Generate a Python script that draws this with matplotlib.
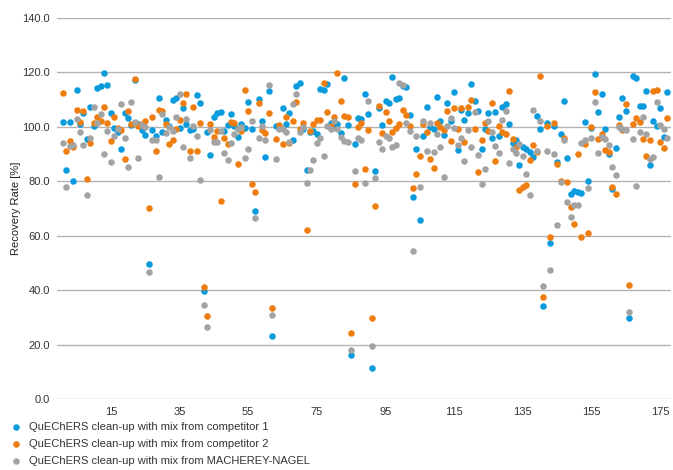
import matplotlib
matplotlib.use("Agg")
import matplotlib.pyplot as plt
import numpy as np

plt.rcParams['font.family'] = ['Liberation Sans', 'DejaVu Sans']

competitor1 = [101.8, 84.2, 101.8, 80.1, 113.6, 101.0, 105.0, 95.6, 107.4, 100.2,
               114.3, 115.0, 119.8, 115.4, 105.1, 99.4, 98.2, 91.9, 105.1, 103.3,
               100.7, 117.3, 101.1, 99.0, 97.0, 49.6, 99.0, 96.7, 110.7, 98.2,
               102.6, 100.4, 109.9, 110.7, 99.6, 107.0, 101.0, 98.8, 99.3, 111.8,
               108.8, 39.7, 98.0, 89.7, 103.7, 105.1, 105.5, 98.5, 100.6, 104.8,
               100.4, 96.3, 101.1, 99.6, 109.2, 99.3, 69.1, 110.3, 102.0, 89.0,
               113.2, 23.2, 100.4, 99.7, 107.0, 101.2, 105.1, 95.2, 115.0, 116.2,
               99.1, 84.2, 98.2, 98.5, 97.4, 114.0, 113.6, 115.8, 101.5, 100.3,
               101.1, 97.8, 118.0, 100.7, 16.2, 93.8, 103.3, 102.9, 112.1, 104.8,
               11.4, 83.8, 107.0, 100.8, 109.6, 108.8, 118.4, 110.3, 110.7, 115.0,
               114.7, 104.4, 74.3, 91.9, 65.8, 96.7, 107.4, 100.0, 99.3, 111.0,
               102.2, 97.0, 108.8, 102.2, 112.9, 91.5, 106.3, 102.6, 105.1, 115.8,
               109.6, 105.9, 91.9, 99.3, 105.1, 96.0, 105.5, 96.7, 107.4, 108.5,
               100.9, 94.1, 95.0, 86.0, 92.6, 91.9, 90.8, 89.0, 104.0, 99.2,
               34.2, 101.5, 57.4, 100.5, 87.1, 97.4, 109.6, 88.6, 75.4, 76.5,
               76.1, 75.7, 101.8, 80.1, 99.6, 119.5, 105.5, 112.1, 99.3, 90.1,
               77.2, 92.3, 103.7, 110.7, 105.9, 29.8, 118.8, 118.0, 107.7, 107.7,
               113.2, 86.0, 102.2, 100.3, 107.0, 96.3, 112.9]

competitor2 = [112.4, 91.2, 94.9, 92.6, 106.2, 101.8, 105.8, 80.9, 94.1, 101.5,
               103.7, 102.2, 107.4, 101.5, 94.9, 103.7, 99.5, 98.9, 88.2, 105.9,
               101.0, 117.6, 100.3, 101.2, 102.2, 70.2, 103.7, 91.2, 106.3, 106.0,
               101.1, 93.8, 95.2, 99.1, 102.4, 108.8, 112.1, 91.2, 107.4, 91.2,
               101.5, 41.2, 30.5, 101.1, 96.3, 98.3, 72.8, 96.0, 93.8, 101.8,
               101.5, 86.4, 98.5, 113.6, 105.9, 79.0, 76.1, 108.8, 98.9, 97.8,
               105.0, 33.5, 95.6, 100.8, 93.8, 103.7, 94.1, 102.2, 109.2, 99.2,
               101.6, 62.1, 98.6, 101.1, 102.6, 102.6, 116.2, 105.5, 100.4, 103.7,
               119.9, 109.6, 104.0, 103.7, 24.3, 79.0, 100.0, 101.5, 84.6, 99.0,
               29.8, 71.0, 107.7, 97.8, 105.5, 102.2, 98.2, 99.6, 101.0, 106.3,
               104.4, 100.4, 77.6, 82.7, 89.3, 101.0, 98.2, 88.2, 84.9, 101.5,
               100.0, 99.0, 105.9, 94.9, 107.0, 99.3, 107.0, 94.5, 107.4, 109.9,
               99.3, 83.5, 95.2, 101.5, 98.5, 108.8, 87.5, 100.4, 98.2, 97.4,
               113.2, 95.6, 92.6, 76.8, 77.9, 78.7, 88.0, 93.4, 90.8, 118.8,
               37.5, 100.4, 59.6, 101.5, 86.4, 80.1, 96.0, 79.8, 70.6, 64.3,
               90.0, 59.6, 93.8, 61.0, 100.0, 112.9, 95.6, 97.4, 91.5, 90.8,
               77.9, 75.4, 100.7, 98.9, 108.5, 41.9, 101.1, 103.3, 101.8, 95.6,
               89.3, 95.0, 113.2, 113.6, 94.5, 92.3, 103.3]

macherey_nagel = [94.1, 77.9, 93.0, 93.4, 102.9, 98.2, 93.4, 75.0, 96.0, 107.4,
                  101.5, 104.8, 90.1, 98.5, 87.1, 96.7, 99.3, 108.5, 96.0, 85.3,
                  109.2, 101.8, 88.6, 100.7, 100.0, 46.7, 95.2, 95.2, 81.6, 104.8,
                  97.8, 100.0, 98.5, 103.7, 112.1, 92.6, 102.9, 88.6, 100.4, 96.7,
                  80.5, 34.6, 26.5, 98.9, 94.5, 94.5, 98.5, 90.4, 87.9, 94.1,
                  97.4, 99.3, 100.0, 88.6, 91.9, 102.2, 66.5, 96.0, 100.4, 95.2,
                  115.4, 30.9, 88.2, 99.3, 99.3, 98.2, 94.5, 108.5, 112.1, 98.2,
                  100.0, 79.4, 84.2, 87.9, 94.1, 96.0, 89.3, 100.4, 99.3, 102.2,
                  99.3, 96.3, 94.9, 94.5, 18.0, 83.8, 96.0, 95.2, 79.4, 109.6,
                  19.5, 81.2, 94.5, 91.9, 96.7, 96.0, 92.6, 93.4, 116.2, 115.4,
                  101.5, 98.5, 54.4, 96.7, 77.9, 102.2, 91.2, 101.5, 90.8, 97.4,
                  92.6, 81.6, 100.4, 103.3, 99.6, 93.4, 96.0, 87.5, 98.9, 92.6,
                  105.5, 89.7, 79.0, 84.6, 102.2, 98.2, 93.0, 90.4, 102.6, 105.9,
                  86.8, 91.9, 90.4, 93.8, 89.3, 82.7, 75.0, 106.3, 91.2, 102.2,
                  41.5, 91.2, 47.4, 90.1, 64.0, 79.8, 95.2, 72.4, 66.9, 71.3,
                  71.3, 94.1, 95.0, 77.6, 96.0, 109.2, 90.4, 96.3, 95.6, 93.4,
                  85.3, 82.4, 100.0, 99.3, 98.9, 32.0, 95.6, 78.3, 98.2, 103.7,
                  97.4, 88.2, 89.0, 109.2, 100.7, 99.3, 96.0]

labels = ["QuEChERS clean-up with mix from competitor 1",
          "QuEChERS clean-up with mix from competitor 2",
          "QuEChERS clean-up with mix from MACHEREY-NAGEL"]
colors = ["#0a9bdc", "#f07d0f", "#a3a3a3"]
y_ticks = [0, 20, 40, 60, 80, 100, 120, 140]
x_ticks = [15, 35, 55, 75, 95, 115, 135, 155, 175]

fig = plt.figure(figsize=(6.73, 4.70), dpi=100)
ax = fig.add_axes([0.0847, 0.151, 0.9125, 0.8107])

series = [competitor1, competitor2, macherey_nagel]
handles = []
for vals, lab, col in zip(series, labels, colors):
    x = np.arange(1, len(vals) + 1)
    h = ax.scatter(x, vals, s=22, color=col, label=lab, linewidths=0, zorder=3)
    handles.append(h)

ax.set_ylim(0, 140)
ax.set_xlim(-0.7, 178.2)
ax.set_yticks(y_ticks)
ax.set_yticklabels([f"{v:.1f}" for v in y_ticks])
ax.set_xticks(x_ticks)
ax.grid(axis='y', color='#b3b3b3', linewidth=1.0, zorder=0)
for s in ax.spines.values():
    s.set_visible(False)
ax.tick_params(axis='both', length=0, labelsize=8, colors='#333333', pad=6)
ax.tick_params(axis='y', pad=5)
ax.set_ylabel("Recovery Rate [%]", fontsize=8, color='#222222', labelpad=1)

fig.legend(handles=handles, labels=labels, loc='upper left',
           bbox_to_anchor=(0.008, 0.111), frameon=False, fontsize=8,
           handletextpad=0.5, labelspacing=0.62, borderaxespad=0,
           markerscale=1.0, handlelength=1.2, labelcolor='#333333')

fig.savefig("out.png", dpi=100)
